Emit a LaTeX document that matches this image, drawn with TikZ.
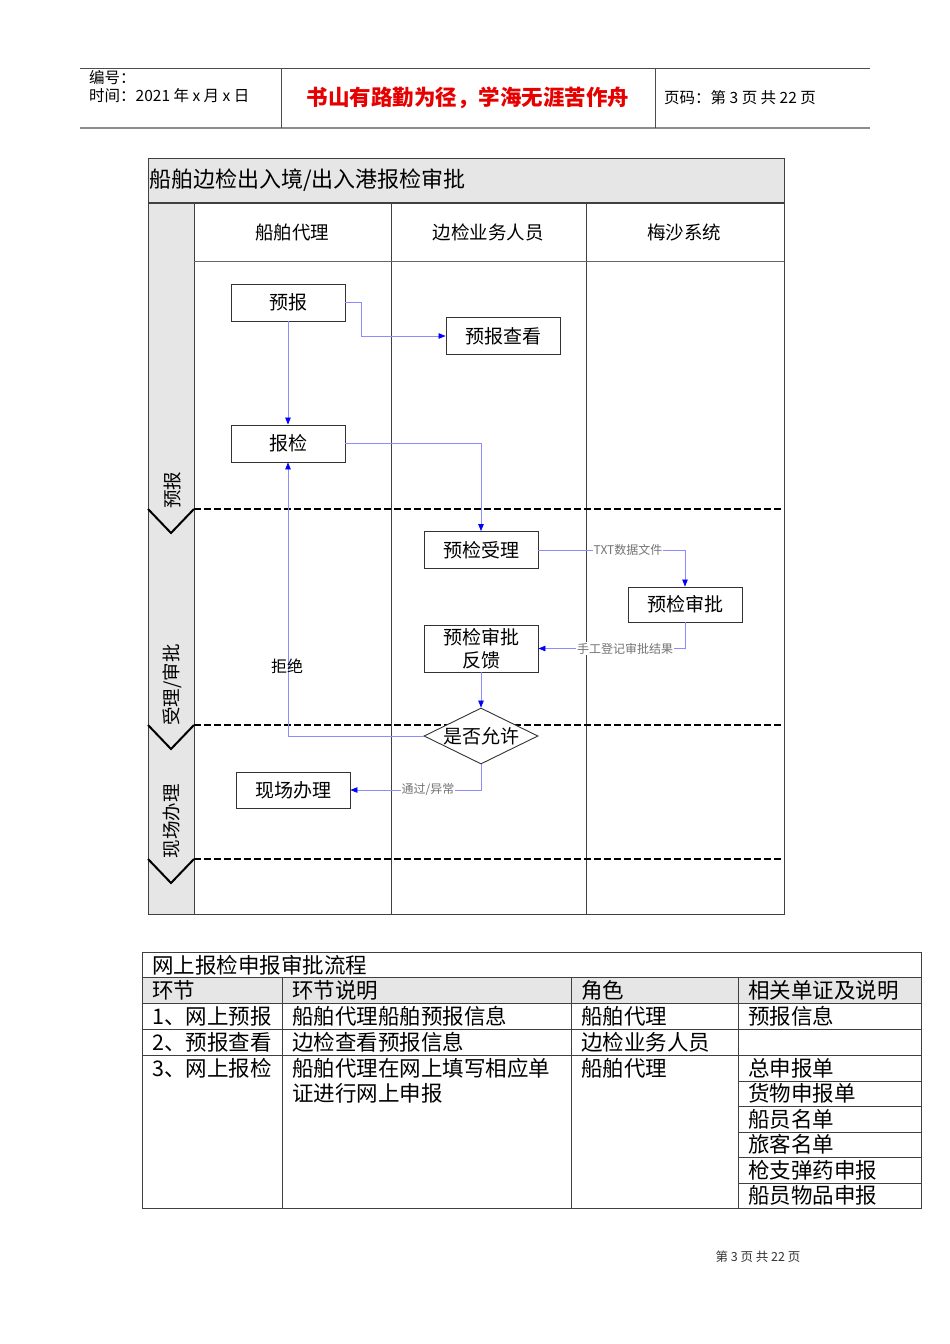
\documentclass[tikz,border=0pt]{standalone}
\usepackage{fontspec}
\setmainfont{Noto Sans CJK SC}
\usetikzlibrary{arrows.meta,shapes.geometric}
\definecolor{flowline}{RGB}{140,140,255}
\definecolor{lanegray}{RGB}{230,230,230}
\definecolor{redtxt}{RGB}{230,0,0}
\begin{document}
\begin{tikzpicture}[x=1pt,y=-1pt,
  box/.style={draw=black!80,line width=0.9pt,fill=white,minimum width=114pt,minimum height=37pt,inner sep=0pt,font=\fontsize{19}{21}\selectfont},
  flow/.style={draw=flowline,line width=0.7pt,-{Triangle[length=7pt,width=5.5pt,color=blue]}},
  elabel/.style={fill=white,inner sep=0.6pt,text=black!55,font=\fontsize{12}{13}\selectfont},
  sepline/.style={line width=2.5pt,dash pattern=on 7pt off 3pt},
  lane/.style={draw=black!75,line width=0.8pt},
  chev/.style={line width=2pt,line join=miter},
  hdr/.style={font=\fontsize{18.5}{20}\selectfont},
  phase/.style={rotate=90,font=\fontsize{18.5}{20}\selectfont},
  tline/.style={draw=black!75,line width=0.8pt},
  ttxt/.style={anchor=west,inner sep=0pt,font=\fontsize{21.5}{24}\selectfont},
  htxt/.style={anchor=west,inner sep=0pt,font=\fontsize{15.5}{17}\selectfont}]
\useasboundingbox (0,0) rectangle (950,1344);
\fill[white] (0,0) rectangle (950,1344);

% ---------- page header ----------
\draw[black!70,line width=0.8pt] (80,68) -- (870,68);
\draw[black!45,line width=2pt] (80,128) -- (870,128);
\draw[black!70,line width=0.8pt] (281,68) -- (281,128);
\draw[black!70,line width=0.8pt] (655,68) -- (655,128);
\node[htxt] (bh) at (89,78) {编号：};
\node[htxt] (sj) at (89,96) {时间：2021 年 x 月 x 日};
\node[inner sep=0pt,text=redtxt,font=\bfseries\fontsize{21.5}{24}\selectfont] (motto) at (468,98) {书山有路勤为径，学海无涯苦作舟};
\node[htxt] (ym) at (664,98) {页码：第 3 页 共 22 页};

% ---------- swimlane frame ----------
\fill[lanegray] (148,158) rectangle (784,203);
\fill[lanegray] (148,203) rectangle (194,914);
\draw[lane] (148,158) rectangle (784,914);
\draw[black!75,line width=1.6pt] (148,203) -- (784,203);
\draw[lane] (194,203) -- (194,914);
\draw[lane] (391,203) -- (391,914);
\draw[lane] (586,203) -- (586,914);
\draw[black!60,line width=0.6pt] (194,261) -- (784,261);
\node[anchor=west,inner sep=0pt,font=\fontsize{22}{24}\selectfont] (title) at (149,180) {船舶边检出入境/出入港报检审批};
\node[hdr] (h1) at (292,232) {船舶代理};
\node[hdr] (h2) at (488,232) {边检业务人员};
\node[hdr] (h3) at (684,232) {梅沙系统};

% phase separators
\foreach \yy in {509,725,859}{
  \draw[sepline] (194,\yy) -- (784,\yy);
  \draw[chev] (148,\yy) -- (171,\yy+24) -- (194,\yy);
}
\node[phase] (p1) at (172,490) {预报};
\node[phase] (p2) at (172,685) {受理/审批};
\node[phase] (p3) at (172,821) {现场办理};

% ---------- flow nodes ----------
\node[box] (yb) at (288,302.5) {预报};
\node[box] (ybck) at (503,336) {预报查看};
\node[box] (bj) at (288,443.5) {报检};
\node[box] (yjsl) at (481,550) {预检受理};
\node[box,minimum height=35pt] (yjsp) at (685,604.5) {预检审批};
\node[box,minimum height=47pt,align=center,font=\fontsize{19}{23}\selectfont] (fk) at (481,648.5) {预检审批\\反馈};
\node[diamond,draw=black!80,line width=0.9pt,fill=white,minimum width=114pt,minimum height=56pt,inner sep=0pt,aspect=2,font=\fontsize{19}{21}\selectfont] (sf) at (481,736) {是否允许};
\node[box,minimum height=36pt] (xc) at (293,790) {现场办理};

% ---------- connectors ----------
\draw[flow] (yb.east) -- (361,302.5) |- (ybck.west);
\draw[flow] (yb.south) -- (bj.north);
\draw[flow] (bj.east) -| (yjsl.north);
\draw[flow] (yjsl.east) -| (yjsp.north);
\node[elabel] (l1) at (628,550) {TXT数据文件};
\draw[flow] (yjsp.south) |- (fk.east);
\node[elabel] (l2) at (625,648.5) {手工登记审批结果};
\draw[flow] (fk.south) -- (sf.north);
\draw[flow] (sf.west) -| (bj.south);
\node[inner sep=0pt,font=\fontsize{16}{18}\selectfont] (jj) at (287,666) {拒绝};
\draw[flow] (sf.south) |- (xc.east);
\node[elabel] (l3) at (428,790) {通过/异常};

% ---------- table ----------
\fill[lanegray] (142,977) rectangle (921,1003);
\draw[tline] (142,952) rectangle (921,1208);
\draw[tline] (142,977) -- (921,977);
\draw[tline] (142,1003) -- (921,1003);
\draw[tline] (142,1029) -- (921,1029);
\draw[tline] (142,1055) -- (921,1055);
\draw[tline] (282,977) -- (282,1208);
\draw[tline] (571,977) -- (571,1208);
\draw[tline] (738,977) -- (738,1208);
\foreach \yy in {1081,1106,1132,1157,1183}{
  \draw[tline] (738,\yy) -- (921,\yy);
}
\node[ttxt] (t0) at (152,965) {网上报检申报审批流程};
\node[ttxt] (c1) at (152,990) {环节};
\node[ttxt] (c2) at (292,990) {环节说明};
\node[ttxt] (c3) at (581,990) {角色};
\node[ttxt] (c4) at (748,990) {相关单证及说明};
\node[ttxt] (r1a) at (152,1016) {1、网上预报};
\node[ttxt] (r1b) at (292,1016) {船舶代理船舶预报信息};
\node[ttxt] (r1c) at (581,1016) {船舶代理};
\node[ttxt] (r1d) at (748,1016) {预报信息};
\node[ttxt] (r2a) at (152,1042) {2、预报查看};
\node[ttxt] (r2b) at (292,1042) {边检查看预报信息};
\node[ttxt] (r2c) at (581,1042) {边检业务人员};
\node[ttxt] (r3a) at (152,1068) {3、网上报检};
\node[ttxt] (r3b) at (292,1068) {船舶代理在网上填写相应单};
\node[ttxt] (r3b2) at (292,1093) {证进行网上申报};
\node[ttxt] (r3c) at (581,1068) {船舶代理};
\node[ttxt] (d1) at (748,1068) {总申报单};
\node[ttxt] (d2) at (748,1093.5) {货物申报单};
\node[ttxt] (d3) at (748,1119) {船员名单};
\node[ttxt] (d4) at (748,1144.5) {旅客名单};
\node[ttxt] (d5) at (748,1170) {枪支弹药申报};
\node[ttxt] (d6) at (748,1195.5) {船员物品申报};

% ---------- footer ----------
\node[inner sep=0pt,text=black!80,font=\fontsize{12.5}{14}\selectfont] (ft) at (758,1257) {第 3 页 共 22 页};
\end{tikzpicture}
\end{document}
